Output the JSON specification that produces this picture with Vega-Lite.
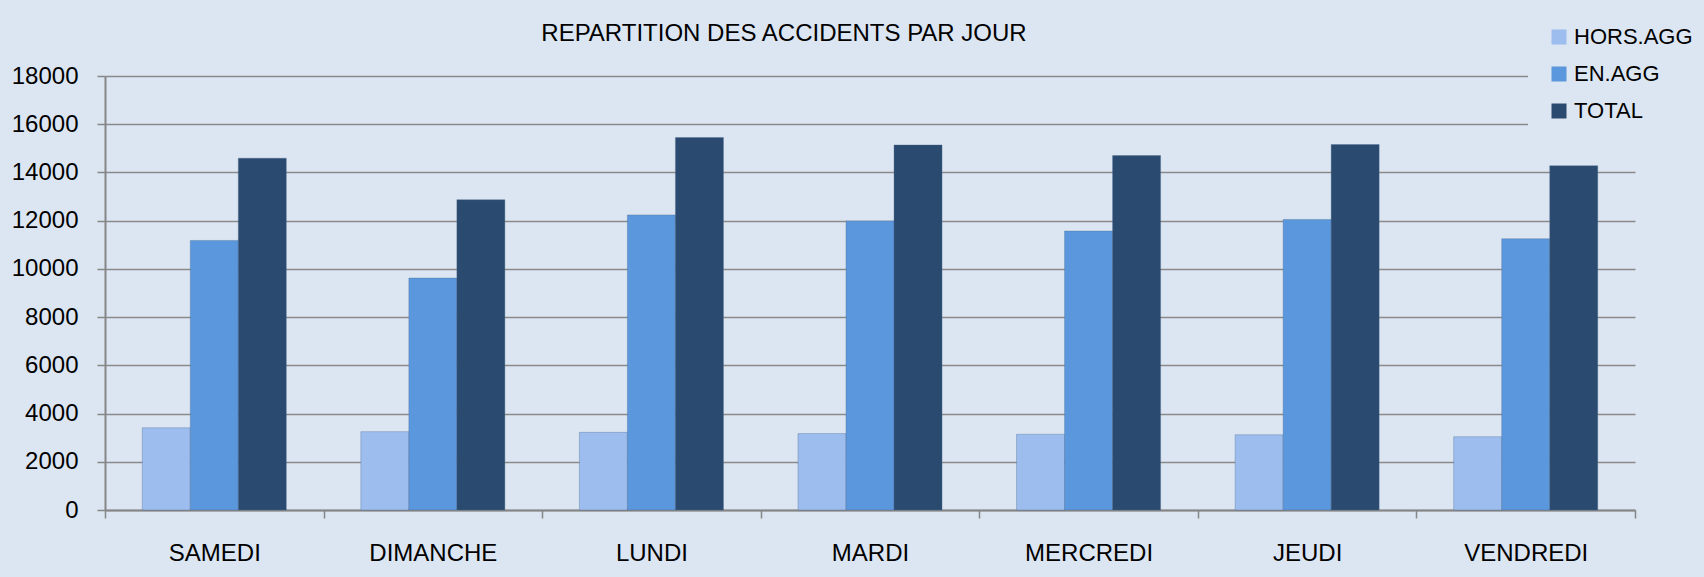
{
  "$schema": "https://vega.github.io/schema/vega-lite/v6.json",
  "autosize": "none",
  "width": 1530,
  "height": 434,
  "padding": {"left": 105, "top": 76, "right": 69, "bottom": 67},
  "background": "#dce6f2",
  "title": {
    "text": "REPARTITION DES ACCIDENTS PAR JOUR",
    "anchor": "middle",
    "frame": "group",
    "dx": -86,
    "dy": 74,
    "offset": 34,
    "font": "Liberation Sans, sans-serif",
    "fontSize": 24,
    "fontWeight": "normal",
    "color": "#000000"
  },
  "data": {
    "values": [
      {"jour": "SAMEDI", "serie": "HORS.AGG", "valeur": 3410},
      {"jour": "SAMEDI", "serie": "EN.AGG", "valeur": 11180},
      {"jour": "SAMEDI", "serie": "TOTAL", "valeur": 14590},
      {"jour": "DIMANCHE", "serie": "HORS.AGG", "valeur": 3250},
      {"jour": "DIMANCHE", "serie": "EN.AGG", "valeur": 9620},
      {"jour": "DIMANCHE", "serie": "TOTAL", "valeur": 12870},
      {"jour": "LUNDI", "serie": "HORS.AGG", "valeur": 3220},
      {"jour": "LUNDI", "serie": "EN.AGG", "valeur": 12240},
      {"jour": "LUNDI", "serie": "TOTAL", "valeur": 15450},
      {"jour": "MARDI", "serie": "HORS.AGG", "valeur": 3170},
      {"jour": "MARDI", "serie": "EN.AGG", "valeur": 11990},
      {"jour": "MARDI", "serie": "TOTAL", "valeur": 15140},
      {"jour": "MERCREDI", "serie": "HORS.AGG", "valeur": 3140},
      {"jour": "MERCREDI", "serie": "EN.AGG", "valeur": 11570},
      {"jour": "MERCREDI", "serie": "TOTAL", "valeur": 14700},
      {"jour": "JEUDI", "serie": "HORS.AGG", "valeur": 3120},
      {"jour": "JEUDI", "serie": "EN.AGG", "valeur": 12050},
      {"jour": "JEUDI", "serie": "TOTAL", "valeur": 15160},
      {"jour": "VENDREDI", "serie": "HORS.AGG", "valeur": 3040},
      {"jour": "VENDREDI", "serie": "EN.AGG", "valeur": 11250},
      {"jour": "VENDREDI", "serie": "TOTAL", "valeur": 14280}
    ]
  },
  "mark": {"type": "bar", "stroke": "#4a6a90", "strokeOpacity": 0.35, "strokeWidth": 1},
  "encoding": {
    "x": {
      "field": "jour",
      "type": "nominal",
      "sort": ["SAMEDI", "DIMANCHE", "LUNDI", "MARDI", "MERCREDI", "JEUDI", "VENDREDI"],
      "title": null,
      "scale": {"paddingInner": 0, "paddingOuter": 0},
      "axis": {
        "labelAngle": 0,
        "tickBand": "extent",
        "tickSize": 8,
        "tickColor": "#868686",
        "tickWidth": 1.5,
        "domainColor": "#868686",
        "domainWidth": 2,
        "labelPadding": 23,
        "labelFont": "Liberation Sans, sans-serif",
        "labelFontSize": 24,
        "labelColor": "#000000",
        "grid": false
      }
    },
    "xOffset": {
      "field": "serie",
      "type": "nominal",
      "sort": ["HORS.AGG", "EN.AGG", "TOTAL"],
      "scale": {"paddingInner": 0, "paddingOuter": 0.776}
    },
    "y": {
      "field": "valeur",
      "type": "quantitative",
      "title": null,
      "scale": {"domain": [0, 18000], "nice": false},
      "axis": {
        "values": [0, 2000, 4000, 6000, 8000, 10000, 12000, 14000, 16000, 18000],
        "format": "d",
        "grid": true,
        "gridColor": "#8a8a8a",
        "gridWidth": 1.5,
        "tickSize": 8,
        "tickColor": "#868686",
        "tickWidth": 1.5,
        "domainColor": "#868686",
        "domainWidth": 2,
        "labelPadding": 19,
        "labelFont": "Liberation Sans, sans-serif",
        "labelFontSize": 24,
        "labelColor": "#000000"
      }
    },
    "color": {
      "field": "serie",
      "type": "nominal",
      "sort": ["HORS.AGG", "EN.AGG", "TOTAL"],
      "scale": {"domain": ["HORS.AGG", "EN.AGG", "TOTAL"], "range": ["#9dbdee", "#5b97dd", "#2b4a6f"]},
      "legend": {
        "title": null,
        "orient": "none",
        "legendX": 1423,
        "legendY": -70,
        "padding": 20,
        "fillColor": "#dce6f2",
        "zindex": 1,
        "symbolType": "square",
        "symbolSize": 225,
        "symbolStrokeWidth": 0,
        "rowPadding": 15,
        "labelFont": "Liberation Sans, sans-serif",
        "labelFontSize": 22,
        "labelColor": "#000000",
        "labelOffset": 4
      }
    }
  },
  "config": {
    "view": {"stroke": null}
  }
}
